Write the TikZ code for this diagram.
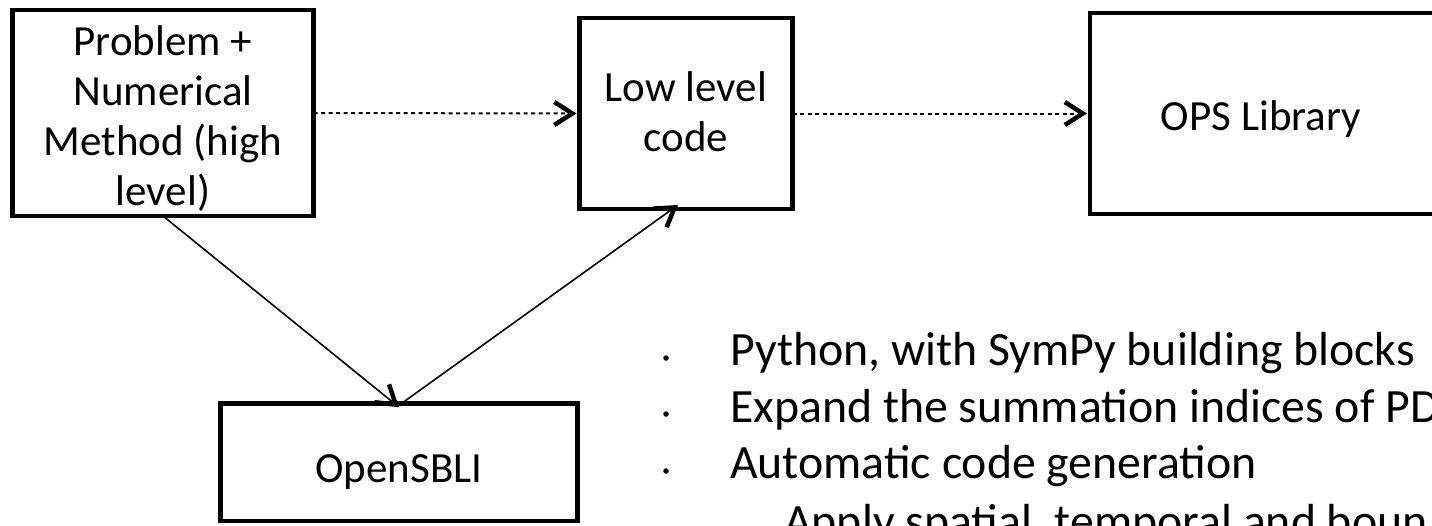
\documentclass[tikz,border=0pt]{standalone}
\usepackage{fontspec}
\setmainfont{Carlito}
\usetikzlibrary{arrows.meta}
\begin{document}
\begin{tikzpicture}[x=1pt,y=-1pt,
  box/.style={draw=black, line width=4.5pt, rectangle, inner sep=0pt, outer sep=0pt},
  boxtext/.style={font=\fontsize{43}{50}\selectfont, anchor=base, inner sep=0pt},
  bultext/.style={font=\fontsize{47.8}{57}\selectfont, anchor=base west, inner sep=0pt},
  bulletdot/.style={circle, fill=black, inner sep=0pt, minimum size=5.5pt},
  chev/.style={-{Straight Barb[length=18pt,width=23pt,line width=4.5pt]}},
  dotflow/.style={chev, line width=2pt, dash pattern=on 4pt off 3.5pt},
  solidflow/.style={chev, line width=1.6pt}]
\useasboundingbox (0,0) rectangle (1432,525);
\clip (0,0) rectangle (1432,525);
% boxes
\node[box, minimum width=301pt, minimum height=206pt] (b1) at (163,113) {};
\node[box, minimum width=213pt, minimum height=191pt] (b2) at (686,113.5) {};
\node[box, minimum width=348pt, minimum height=201pt] (b3) at (1264,113.5) {};
\node[box, minimum width=357pt, minimum height=117.5pt] (b4) at (399,462) {};
% box texts
\node[boxtext] (t1a) at (163,55) {Problem +};
\node[boxtext] (t1b) at (163,105) {Numerical};
\node[boxtext] (t1c) at (163,155) {Method (high};
\node[boxtext] (t1d) at (163,205) {level)};
\node[boxtext] (t2a) at (686,101) {Low level};
\node[boxtext] (t2b) at (686,151) {code};
\node[boxtext] (t3) at (1261,130) {OPS Library};
\node[boxtext] (t4) at (399,482) {OpenSBLI};
% connectors
\draw[dotflow] (b1.east) -- ([xshift=-3pt]b2.west);
\draw[dotflow] (b2.east) -- ([xshift=-3pt]b3.west);
\draw[solidflow] (b1.south) -- ([yshift=-4pt]b4.north);
\draw[solidflow] ([yshift=-2pt]b4.north) -- ([xshift=-8pt,yshift=4pt]b2.south);
% bullet list
\node[bulletdot] (d1) at (666,358) {};
\node[bulletdot] (d2) at (666,414) {};
\node[bulletdot] (d3) at (666,471) {};
\node[bultext] (l1) at (730,365) {Python, with SymPy building blocks};
\node[bultext] (l2) at (730,422) {Expand the summation indices of PD};
\node[bultext] (l3) at (730,478) {Automatic code generation};
\node[bultext] (l4) at (784,537) {Apply spatial, temporal and boun};
\end{tikzpicture}
\end{document}
